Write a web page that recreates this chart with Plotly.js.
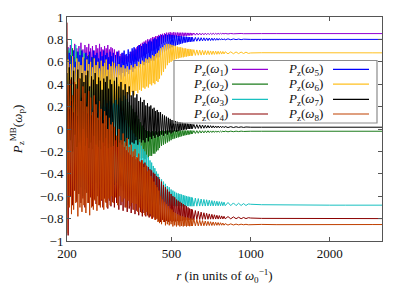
<!DOCTYPE html>
<html><head><meta charset="utf-8">
<script src="https://cdn.plot.ly/plotly-3.0.1.min.js"></script>
<style>html,body{margin:0;padding:0;background:#fff;overflow:hidden}</style>
</head><body><div id="chart" style="width:407px;height:285px"></div>
<script>
// r (in units of omega_0^-1)
const r = [
200,202,204,206,208,210,212,214,216,218,220,222,224,226,228,230,232,234,236,238,240,242,244,246,248,
250,252,254,256,258,260,262,264,266,268,270,272,274,276,278,280,282,284,286,288,290,292,294,296,298,
300,303,306,309,312,315,318,321,324,327,330,333,336,339,342,345,348,351,354,357,360,363,366,369,372,
375,378,381,384,387,390,393,396,399,402,405,408,411,414,417,420,423,426,429,432,435,438,441,444,447,
450,454,458,462,466,470,474,478,482,486,490,494,498,502,506,510,514,518,522,526,530,534,538,542,546,
550,554,558,562,566,570,574,578,582,586,590,594,598,
600,608,616,624,632,640,648,656,664,672,680,688,696,704,712,720,728,736,744,752,760,768,776,784,792,
800,820,840,860,880,900,920,940,960,980,
1000,1100,1250,1400,1600,1800,2000,2300,2600,2900,3200];

const pz_w1 = [
0.55,0.73,0.48,0.75,0.52,0.70,0.45,0.76,0.55,0.72, 0.50,0.74,0.56,0.77,0.52,0.71,0.47,0.75,0.58,0.73,
0.53,0.76,0.50,0.72,0.57,0.74,0.54,0.70,0.51,0.75, 0.58,0.72,0.55,0.76,0.52,0.73,0.57,0.71,0.54,0.74,
0.59,0.72,0.56,0.75,0.53,0.71,0.58,0.73,0.55,0.72,
0.57,0.71,0.55,0.69,0.58,0.70,0.56,0.67,0.59,0.68, 0.57,0.66,0.58,0.65,0.60,0.67,0.59,0.69,0.61,0.70,
0.60,0.72,0.62,0.73,0.61,0.75,0.63,0.76,0.64,0.77, 0.65,0.78,0.66,0.79,0.67,0.80,0.68,0.80,0.69,0.81,
0.70,0.82,0.70,0.82,0.71,0.83,0.72,0.83,0.73,0.84,
0.74,0.845,0.76,0.85,0.77,0.855,0.78,0.86,0.79,0.86, 0.80,0.865,0.805,0.86,0.81,0.865,0.815,0.86,0.82,0.862,
0.822,0.86,0.825,0.86,0.827,0.86,0.829,0.859,0.831,0.859, 0.832,0.858,0.834,0.858,0.835,0.858,0.836,0.857,
0.837,0.857,0.838,0.857,0.839,0.856,0.84,0.856,0.841,0.856,0.842,0.855,0.843,0.855,0.844,0.855,0.845,0.854,0.846,0.854,0.847,0.854,0.848,0.854,0.849,
0.853,0.849,0.853,0.85,0.853,0.85,0.853,0.851,0.852,0.851,
0.852,0.852,0.852,0.852,0.852,0.852,0.852,0.852,0.852,0.852,0.852];

const pz_w2 = [
0.40,0.70,0.30,0.66,0.42,0.72,0.28,0.64,0.36,0.69, 0.25,0.65,0.33,0.70,0.22,0.62,0.30,0.67,0.18,0.63,
0.26,0.66,0.15,0.60,0.22,0.64,0.12,0.58,0.18,0.62, 0.08,0.57,0.14,0.60,0.05,0.55,0.10,0.57,0.02,0.53,
0.06,0.55,-0.01,0.51,0.03,0.52,-0.04,0.49,0.00,0.47,
-0.08,0.45,-0.10,0.42,-0.12,0.40,-0.13,0.37,-0.15,0.34, -0.16,0.30,-0.18,0.27,-0.19,0.24,-0.21,0.21,-0.22,0.18,
-0.23,0.15,-0.24,0.12,-0.25,0.09,-0.26,0.06,-0.27,0.03, -0.26,0.01,-0.27,-0.01,-0.25,-0.02,-0.26,-0.02,-0.24,-0.03,
-0.24,-0.02,-0.22,-0.03,-0.22,-0.02,-0.20,-0.03,-0.19,-0.02,
-0.17,-0.02,-0.15,-0.015,-0.14,-0.02,-0.13,-0.015,-0.12,-0.015, -0.11,-0.012,-0.10,-0.015,-0.09,-0.012,-0.085,-0.014,-0.08,-0.012,
-0.075,-0.014,-0.07,-0.013,-0.065,-0.014,-0.06,-0.013,-0.057,-0.014, -0.054,-0.014,-0.051,-0.014,-0.048,-0.014,-0.045,-0.014,
-0.042,-0.015,-0.04,-0.015,-0.038,-0.015,-0.036,-0.016,-0.035,-0.016,-0.033,-0.016,-0.032,-0.017,-0.031,-0.017,-0.03,-0.017,-0.029,-0.018,-0.028,-0.018,-0.027,-0.018,-0.026,
-0.018,-0.025,-0.019,-0.024,-0.019,-0.023,-0.019,-0.022,-0.02,-0.021,
-0.02,-0.02,-0.02,-0.02,-0.02,-0.02,-0.02,-0.02,-0.02,-0.02,-0.02];

const pz_w3 = [
0.78,-0.68,0.72,-0.60,0.80,-0.65,0.70,-0.55,0.75,-0.62, 0.66,-0.58,0.72,-0.52,0.62,-0.60,0.68,-0.54,0.58,-0.57,
0.63,-0.50,0.55,-0.56,0.60,-0.49,0.52,-0.55,0.56,-0.48, 0.48,-0.53,0.52,-0.47,0.45,-0.52,0.48,-0.46,0.42,-0.51,
0.44,-0.45,0.39,-0.50,0.41,-0.44,0.36,-0.49,0.37,-0.46,
0.33,-0.50,0.28,-0.48,0.24,-0.53,0.20,-0.51,0.16,-0.55, 0.12,-0.52,0.08,-0.56,0.05,-0.54,0.02,-0.58,-0.01,-0.56,
-0.04,-0.60,-0.07,-0.58,-0.10,-0.61,-0.12,-0.60,-0.15,-0.63, -0.18,-0.62,-0.20,-0.64,-0.23,-0.63,-0.25,-0.65,-0.28,-0.64,
-0.30,-0.66,-0.33,-0.65,-0.35,-0.67,-0.38,-0.66,-0.40,-0.68,
-0.43,-0.68,-0.45,-0.675,-0.47,-0.685,-0.49,-0.68,-0.51,-0.688, -0.52,-0.685,-0.54,-0.69,-0.55,-0.686,-0.56,-0.69,-0.57,-0.688,
-0.575,-0.69,-0.58,-0.688,-0.585,-0.69,-0.59,-0.689,-0.595,-0.69, -0.60,-0.689,-0.603,-0.69,-0.606,-0.689,-0.61,-0.69,
-0.613,-0.689,-0.617,-0.689,-0.621,-0.688,-0.625,-0.688,-0.629,-0.688,-0.632,-0.687,-0.636,-0.687,-0.639,-0.687,-0.642,-0.686,-0.645,-0.686,-0.648,-0.686,-0.65,-0.685,-0.653,
-0.685,-0.656,-0.684,-0.66,-0.684,-0.663,-0.683,-0.666,-0.683,-0.669,
-0.672,-0.676,-0.678,-0.679,-0.68,-0.68,-0.68,-0.68,-0.68,-0.68,-0.68];

const pz_w4 = [
0.95,-0.95,0.40,-0.60,0.30,-0.68,0.36,-0.55,0.25,-0.65, 0.32,-0.58,0.22,-0.66,0.28,-0.62,0.18,-0.70,0.24,-0.57,
0.15,-0.66,0.20,-0.61,0.12,-0.69,0.17,-0.63,0.10,-0.67, 0.14,-0.60,0.08,-0.68,0.11,-0.64,0.05,-0.70,0.08,-0.62,
0.03,-0.66,0.06,-0.71,0.00,-0.64,0.04,-0.69,-0.02,-0.65,
-0.03,-0.70,-0.06,-0.66,-0.08,-0.72,-0.11,-0.68,-0.14,-0.73, -0.16,-0.70,-0.19,-0.74,-0.21,-0.71,-0.23,-0.75,-0.25,-0.72,
-0.24,-0.76,-0.27,-0.73,-0.26,-0.77,-0.29,-0.74,-0.28,-0.78, -0.31,-0.75,-0.30,-0.78,-0.33,-0.77,-0.34,-0.79,-0.36,-0.78,
-0.37,-0.80,-0.39,-0.79,-0.40,-0.81,-0.42,-0.80,-0.43,-0.82,
-0.45,-0.83,-0.47,-0.81,-0.50,-0.83,-0.52,-0.82,-0.54,-0.83, -0.56,-0.82,-0.58,-0.83,-0.60,-0.82,-0.61,-0.825,-0.63,-0.82,
-0.64,-0.82,-0.65,-0.82,-0.66,-0.818,-0.67,-0.816,-0.68,-0.815, -0.69,-0.815,-0.70,-0.813,-0.71,-0.812,-0.715,-0.81,
-0.72,-0.81,-0.728,-0.809,-0.735,-0.808,-0.742,-0.807,-0.748,-0.806,-0.753,-0.806,-0.758,-0.805,-0.762,-0.805,-0.766,-0.804,-0.77,-0.804,-0.773,-0.803,-0.776,-0.803,-0.779,
-0.802,-0.782,-0.802,-0.785,-0.801,-0.788,-0.801,-0.79,-0.8,-0.792,
-0.795,-0.798,-0.799,-0.8,-0.8,-0.8,-0.8,-0.8,-0.8,-0.8,-0.8];

const pz_w5 = [
0.62,0.35,0.68,0.30,0.65,0.40,0.70,0.33,0.60,0.42, 0.69,0.36,0.66,0.44,0.70,0.38,0.63,0.31,0.68,0.40,
0.65,0.46,0.69,0.37,0.64,0.43,0.70,0.39,0.66,0.45, 0.68,0.41,0.63,0.47,0.69,0.40,0.65,0.44,0.70,0.42,
0.66,0.48,0.68,0.43,0.64,0.46,0.69,0.44,0.65,0.47,
0.68,0.45,0.66,0.42,0.69,0.48,0.65,0.44,0.68,0.50, 0.70,0.47,0.67,0.51,0.71,0.49,0.69,0.53,0.72,0.51,
0.73,0.54,0.71,0.56,0.74,0.55,0.75,0.57,0.74,0.58, 0.76,0.57,0.77,0.59,0.76,0.60,0.78,0.59,0.79,0.61,
0.78,0.62,0.80,0.61,0.81,0.63,0.80,0.64,0.82,0.64,
0.83,0.66,0.84,0.68,0.835,0.69,0.845,0.70,0.84,0.71, 0.845,0.72,0.84,0.73,0.84,0.74,0.835,0.745,0.835,0.75,
0.83,0.755,0.83,0.76,0.828,0.765,0.826,0.77,0.825,0.772, 0.824,0.775,0.822,0.777,0.821,0.779,0.82,0.78,
0.819,0.782,0.818,0.784,0.816,0.785,0.815,0.787,0.814,0.788,0.813,0.789,0.812,0.79,0.811,0.791,0.81,0.792,0.809,0.793,0.808,0.794,0.807,0.795,0.806,
0.796,0.805,0.797,0.804,0.798,0.803,0.798,0.802,0.799,0.801,
0.80,0.80,0.80,0.80,0.80,0.80,0.80,0.80,0.80,0.80,0.80];

const pz_w6 = [
0.30,0.62,0.18,0.58,0.25,0.65,0.15,0.55,0.22,0.63, 0.12,0.60,0.20,0.57,0.28,0.64,0.16,0.52,0.22,0.62,
0.14,0.58,0.25,0.60,0.18,0.55,0.21,0.63,0.15,0.57, 0.24,0.60,0.17,0.54,0.22,0.61,0.19,0.56,0.26,0.59,
0.20,0.62,0.23,0.53,0.18,0.58,0.25,0.56,0.21,0.60,
0.23,0.59,0.26,0.56,0.22,0.58,0.28,0.55,0.25,0.57, 0.30,0.54,0.27,0.56,0.31,0.53,0.29,0.57,0.33,0.55,
0.30,0.58,0.34,0.56,0.32,0.60,0.35,0.58,0.34,0.61, 0.37,0.60,0.36,0.63,0.38,0.62,0.37,0.64,0.40,0.63,
0.39,0.66,0.41,0.65,0.40,0.67,0.43,0.68,0.42,0.70,
0.45,0.72,0.48,0.73,0.51,0.75,0.54,0.76,0.57,0.76, 0.59,0.755,0.60,0.75,0.61,0.745,0.62,0.74,0.625,0.735,
0.63,0.73,0.635,0.73,0.64,0.725,0.64,0.72,0.645,0.72, 0.647,0.715,0.65,0.715,0.652,0.712,0.654,0.71,
0.655,0.708,0.657,0.706,0.659,0.704,0.66,0.702,0.662,0.70,0.663,0.699,0.664,0.697,0.665,0.696,0.666,0.695,0.667,0.694,0.668,0.693,0.669,0.692,0.67,
0.69,0.671,0.689,0.672,0.688,0.673,0.687,0.674,0.686,0.675,
0.679,0.681,0.68,0.68,0.68,0.68,0.68,0.68,0.68,0.68,0.68];

const pz_w7 = [
0.50,-0.18,0.55,-0.10,0.46,-0.20,0.52,-0.05,0.40,-0.16, 0.53,-0.12,0.45,-0.19,0.50,0.00,0.42,-0.15,0.48,-0.08,
0.52,-0.17,0.38,-0.12,0.47,-0.18,0.44,-0.06,0.50,-0.14, 0.40,-0.16,0.46,-0.10,0.43,-0.18,0.35,-0.12,0.45,-0.15,
0.42,-0.08,0.47,-0.17,0.36,-0.13,0.44,-0.16,0.40,-0.10,
-0.15,0.43,-0.10,0.46,-0.16,0.38,-0.12,0.42,-0.14,0.35, -0.11,0.40,-0.15,0.33,-0.09,0.38,-0.14,0.30,-0.12,0.34,
-0.13,0.28,-0.10,0.31,-0.14,0.25,-0.09,0.28,-0.12,0.24, -0.10,0.26,-0.12,0.21,-0.08,0.23,-0.11,0.20,-0.07,0.21,
-0.09,0.18,-0.06,0.19,-0.08,0.16,-0.05,0.17,-0.07,0.15,
-0.06,0.15,-0.05,0.13,-0.06,0.12,-0.04,0.11,-0.05,0.10, -0.03,0.09,-0.04,0.08,-0.03,0.075,-0.02,0.07,-0.025,0.065,
-0.02,0.06,-0.015,0.058,-0.01,0.055,-0.01,0.052,-0.005,0.05, -0.005,0.048,0.0,0.046,0.0,0.045,0.002,0.043,
0.003,0.041,0.004,0.039,0.005,0.037,0.006,0.035,0.007,0.033,0.008,0.031,0.009,0.03,0.01,0.028,0.01,0.027,0.011,0.026,0.011,0.025,0.012,0.024,0.012,
0.022,0.013,0.021,0.013,0.02,0.014,0.019,0.014,0.018,0.015,
0.016,0.016,0.016,0.016,0.016,0.016,0.016,0.016,0.016,0.016,0.016];

const pz_w8 = [
-0.93,0.40,-0.70,0.44,-0.76,0.30,-0.72,0.42,-0.66,0.36, -0.78,0.45,-0.70,0.25,-0.74,0.38,-0.68,0.32,-0.75,0.20,
-0.66,0.34,-0.77,0.28,-0.70,0.15,-0.72,0.30,-0.64,0.22, -0.73,0.10,-0.68,0.25,-0.70,0.18,-0.63,0.05,-0.72,0.16,
-0.65,0.12,-0.70,0.00,-0.62,0.10,-0.68,0.04,-0.60,0.06,
-0.66,0.02,-0.61,-0.06,-0.68,0.00,-0.60,-0.10,-0.65,-0.04, -0.62,-0.12,-0.70,-0.08,-0.64,-0.16,-0.69,-0.14,-0.66,-0.20,
-0.72,-0.18,-0.67,-0.25,-0.74,-0.22,-0.70,-0.30,-0.75,-0.28, -0.72,-0.34,-0.77,-0.32,-0.74,-0.38,-0.78,-0.37,-0.76,-0.42,
-0.80,-0.44,-0.78,-0.47,-0.81,-0.50,-0.80,-0.52,-0.83,-0.55,
-0.84,-0.60,-0.85,-0.63,-0.83,-0.65,-0.86,-0.67,-0.85,-0.69, -0.86,-0.71,-0.85,-0.72,-0.87,-0.74,-0.86,-0.75,-0.87,-0.76,
-0.86,-0.77,-0.87,-0.775,-0.865,-0.78,-0.87,-0.785,-0.865,-0.79, -0.87,-0.79,-0.865,-0.795,-0.868,-0.80,-0.866,-0.80,
-0.866,-0.805,-0.865,-0.81,-0.865,-0.815,-0.864,-0.818,-0.864,-0.822,-0.863,-0.825,-0.862,-0.828,-0.862,-0.83,-0.861,-0.833,-0.86,-0.835,-0.86,-0.837,-0.859,-0.84,-0.859,
-0.845,-0.858,-0.847,-0.857,-0.849,-0.856,-0.85,-0.855,-0.851,-0.855,
-0.854,-0.852,-0.854,-0.853,-0.853,-0.853,-0.853,-0.853,-0.853,-0.853,-0.853];

const seriesLabels = [
"<i>P</i><sub>z</sub>(<i>ω</i><sub>1</sub>)","<i>P</i><sub>z</sub>(<i>ω</i><sub>2</sub>)",
"<i>P</i><sub>z</sub>(<i>ω</i><sub>3</sub>)","<i>P</i><sub>z</sub>(<i>ω</i><sub>4</sub>)",
"<i>P</i><sub>z</sub>(<i>ω</i><sub>5</sub>)","<i>P</i><sub>z</sub>(<i>ω</i><sub>6</sub>)",
"<i>P</i><sub>z</sub>(<i>ω</i><sub>7</sub>)","<i>P</i><sub>z</sub>(<i>ω</i><sub>8</sub>)"];
const xTickVals = [200, 500, 1000, 2000];
const xTickText = ["200", "500", "1000", "2000"];

// ---- style ----
const colors = ["#9400d3","#1c7c1c","#18c0c0","#8b0000","#0000ff","#ffc020","#000000","#c04000"];
const allSeries = [pz_w1,pz_w2,pz_w3,pz_w4,pz_w5,pz_w6,pz_w7,pz_w8];
const W = 407, H = 285, ML = 67, MR = 25, MT = 17, MB = 44;
const FONT = "'Liberation Serif', 'DejaVu Serif', serif";
const px2x = p => (p - ML) / (W - ML - MR);
const py2y = p => 1 - (p - MT) / (H - MT - MB);

const traces = allSeries.map((ys, i) => ({
  x: r, y: ys, type: "scatter", mode: "lines", name: seriesLabels[i],
  line: {color: colors[i], width: 1}, showlegend: false, hoverinfo: "skip"
}));

// gnuplot-style key: text on the left, sample line on the right
const rowsPx = [69.3, 84.2, 99.3, 114];
const textRightPx = [230, 325];
const lineSpanPx = [[232, 268], [333, 369]];
const annotations = [];
const shapes = [{type: "rect", xref: "paper", yref: "paper",
  x0: px2x(174), x1: px2x(377), y0: py2y(60.5), y1: py2y(123),
  line: {color: "#8c8c8c", width: 1.2}, fillcolor: "rgba(0,0,0,0)", layer: "above"}];
seriesLabels.forEach((lab, i) => {
  const col = Math.floor(i / 4), row = i % 4;
  annotations.push({xref: "paper", yref: "paper", x: px2x(textRightPx[col]), y: py2y(rowsPx[row]),
    xanchor: "right", yanchor: "middle", showarrow: false, text: lab,
    font: {family: FONT, size: 13, color: "#111"}});
  shapes.push({type: "line", xref: "paper", yref: "paper", layer: "above",
    x0: px2x(lineSpanPx[col][0]), x1: px2x(lineSpanPx[col][1]),
    y0: py2y(rowsPx[row]), y1: py2y(rowsPx[row]),
    line: {color: colors[i], width: 1.2}});
});

const axisCommon = {showline: true, mirror: "ticks", linecolor: "#555", linewidth: 1,
  ticks: "inside", ticklen: 4, tickcolor: "#555", showgrid: false, zeroline: false,
  tickfont: {family: FONT, size: 13, color: "#111"}};

const layout = {
  width: W, height: H, margin: {l: ML, r: MR, t: MT, b: MB},
  paper_bgcolor: "#fff", plot_bgcolor: "#fff", showlegend: false,
  font: {family: FONT, color: "#111"},
  xaxis: Object.assign({}, axisCommon, {type: "log", range: [Math.log10(200), 3.5],
    tickmode: "array", tickvals: xTickVals, ticktext: xTickText,
    title: {text: "<i>r</i> (in units of <i>ω</i><sub>0</sub><sup>−1</sup>)", font: {family: FONT, size: 13}, standoff: 13}}),
  yaxis: Object.assign({}, axisCommon, {range: [-1, 1], tick0: -1, dtick: 0.2,
    title: {text: "<i>P</i><sub>z</sub><sup>MB</sup>(<i>ω</i><sub>p</sub>)", font: {family: FONT, size: 13}, standoff: 14}}),
  annotations: annotations, shapes: shapes
};

Plotly.newPlot("chart", traces, layout, {staticPlot: true, displayModeBar: false});
</script>
</body></html>
